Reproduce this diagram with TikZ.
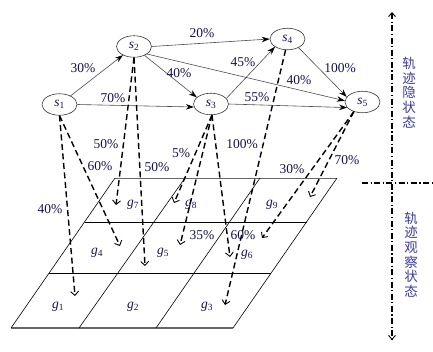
\documentclass[tikz,border=0pt]{standalone}
\usepackage{fontspec}
\setmainfont{Liberation Serif}
\newfontfamily\cjk{Noto Sans CJK SC}
\usetikzlibrary{shapes.geometric,arrows.meta}
\definecolor{txt}{RGB}{20,20,70}
\definecolor{cjkc}{RGB}{60,60,150}
\begin{document}
\begin{tikzpicture}[x=1pt,y=-1pt,
  st/.style={ellipse,draw=black!80,line width=0.6pt,minimum width=35pt,minimum height=21.5pt,inner sep=0pt,text=txt,font=\fontsize{13.5}{14}\selectfont},
  lbl/.style={text=txt,font=\fontsize{13.5}{14}\selectfont,inner sep=0pt},
  gl/.style={text=txt,font=\fontsize{13.5}{14}\selectfont,inner sep=0pt},
  solidarrow/.style={draw=black!70,line width=0.6pt,-{Stealth[length=8pt,width=5.5pt,black]}},
  dasharrow/.style={black,line width=1.4pt,dash pattern=on 6pt off 3.5pt,-{Straight Barb[length=4pt,width=8pt,line width=0.9pt]}},
  gridthin/.style={black,line width=0.6pt},
  gridgray/.style={black!60,line width=0.9pt},
  axis/.style={black,line width=1.3pt,dash pattern=on 6pt off 2.5pt on 1.2pt off 2.5pt},
  cjklbl/.style={text=cjkc,align=center,inner sep=0pt,font=\cjk\fontsize{13.5}{14.7}\selectfont}
]
\useasboundingbox (0,0) rectangle (433,351);

% grid
\draw[gridgray] (115,178) -- (337,178);
\draw[gridgray,line width=1.3pt] (11,328) -- (233,328);
\draw[gridthin] (84.5,222) -- (306.5,222);
\draw[gridthin] (49,273) -- (271,273);
\draw[gridthin] (115,178) -- (11,328);
\draw[gridthin] (185,178) -- (79,328);
\draw[gridthin] (260,178) -- (156,328);
\draw[gridthin] (337,178) -- (233,328);

% grid labels
\node[gl] (g1) at (58,307) {\textit{g}\textsubscript{1}};
\node[gl] (g2) at (133,307) {\textit{g}\textsubscript{2}};
\node[gl] (g3) at (207,307) {\textit{g}\textsubscript{3}};
\node[gl] (g4) at (97,253) {\textit{g}\textsubscript{4}};
\node[gl] (g5) at (163,253) {\textit{g}\textsubscript{5}};
\node[gl] (g6) at (247,255) {\textit{g}\textsubscript{6}};
\node[gl] (g7) at (133,205) {\textit{g}\textsubscript{7}};
\node[gl] (g8) at (191,205) {\textit{g}\textsubscript{8}};
\node[gl] (g9) at (272,205) {\textit{g}\textsubscript{9}};

% arrow targets
\coordinate (t1) at (75,296);
\coordinate (t4) at (120,246);
\coordinate (t7) at (116,205);
\coordinate (t5a) at (145,266);
\coordinate (t8) at (174,203);
\coordinate (t5b) at (180,245);
\coordinate (t6a) at (230,257);
\coordinate (t3) at (225,305);
\coordinate (t9) at (310,197);
\coordinate (t6b) at (262,238);

% states
\node[st] (s1) at (59.5,104.5) {\textit{s}\textsubscript{1}};
\node[st] (s2) at (134,46.5) {\textit{s}\textsubscript{2}};
\node[st] (s3) at (211,104) {\textit{s}\textsubscript{3}};
\node[st] (s4) at (287.5,39) {\textit{s}\textsubscript{4}};
\node[st] (s5) at (362.5,102) {\textit{s}\textsubscript{5}};

% solid transitions
\draw[solidarrow] (s1) -- (s2);
\draw[solidarrow] (s1.east) -- (s3.190);
\draw[solidarrow] (s2.-40) -- (s3.155);
\draw[solidarrow] (s2.east) -- (s4.west);
\draw[solidarrow] (s2.-30) -- (s5.176);
\draw[solidarrow] (s3.20) -- (s4.212);
\draw[solidarrow] (s3.east) -- (s5.200);
\draw[solidarrow] (s4.-38) -- (s5.162);

% dashed emissions
\draw[dasharrow] (s1.south) -- (t1);
\draw[dasharrow] (s1.south) -- (t4);
\draw[dasharrow] (s2.south) -- (t7);
\draw[dasharrow] (s2.south) -- (t5a);
\draw[dasharrow] (s3.-85) -- (t8);
\draw[dasharrow] (s3.-85) -- (t5b);
\draw[dasharrow] (s3.-85) -- (t6a);
\draw[dasharrow] (s4.-100) -- (t3);
\draw[dasharrow] (s5.228) -- (t9);
\draw[dasharrow] (s5.228) -- (t6b);

% labels
\node[lbl] (l12) at (83,68) {30\%};
\node[lbl] (l13) at (113,98) {70\%};
\node[lbl] (l23) at (179,73) {40\%};
\node[lbl] (l24) at (202,33) {20\%};
\node[lbl] (l25) at (299,80) {40\%};
\node[lbl] (l34) at (243,62) {45\%};
\node[lbl] (l35) at (257,97) {55\%};
\node[lbl] (l45) at (340,68) {100\%};
\node[lbl] (e11) at (50,209) {40\%};
\node[lbl] (e14) at (100,166) {60\%};
\node[lbl] (e27) at (106,144) {50\%};
\node[lbl] (e25) at (157,167) {50\%};
\node[lbl] (e38) at (181,153) {5\%};
\node[lbl] (e35) at (202,235) {35\%};
\node[lbl] (e36) at (243,235) {60\%};
\node[lbl] (e43) at (242,144) {100\%};
\node[lbl] (e56) at (292,169) {30\%};
\node[lbl] (e59) at (347,160) {70\%};

% axes
\coordinate (atop) at (392,12);
\coordinate (abot) at (392,340);
\coordinate (hl) at (362,183);
\coordinate (hr) at (433,183);
\draw[axis,{Straight Barb[length=4pt,width=7pt,line width=0.9pt]}-{Straight Barb[length=4pt,width=7pt,line width=0.9pt]}] (atop) -- (abot);
\draw[axis,line width=1.8pt] (hl) -- (hr);
\node[cjklbl] (hid) at (409,92.5) {轨\\迹\\隐\\状\\态};
\node[cjklbl] (obs) at (411,254.5) {轨\\迹\\观\\察\\状\\态};
\end{tikzpicture}
\end{document}
